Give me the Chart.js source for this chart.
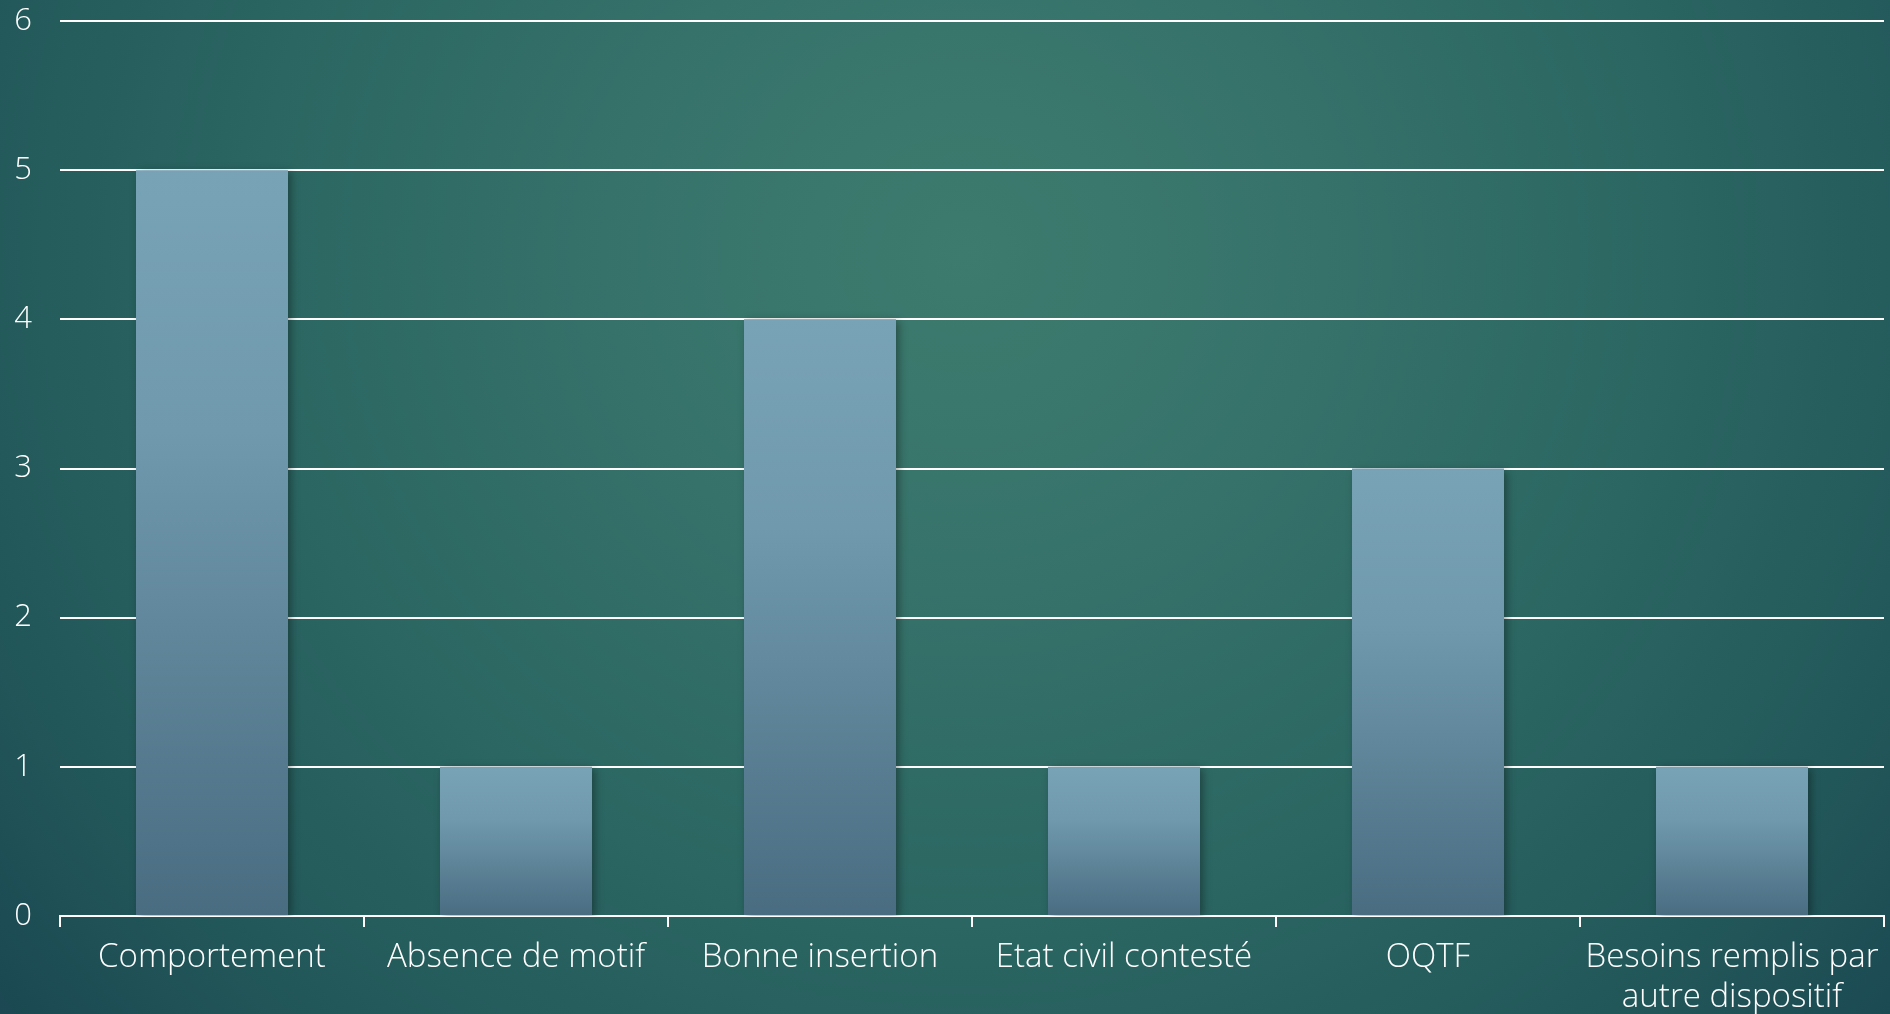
<!DOCTYPE html>
<html>
<head>
<meta charset="utf-8">
<script src="https://cdn.jsdelivr.net/npm/chart.js@4"></script>
<style>
    html, body { margin: 0; padding: 0; }
    body {
        width: 1890px;
        height: 1014px;
        overflow: hidden;
        background: radial-gradient(ellipse 68% 120% at 51% 25%, #3d7b6e 0%, #36726a 28%, #2b6662 55%, #225759 80%, #1a4651 100%);
    }
    #wrap { position: absolute; left: 0; top: 0; width: 1890px; height: 1014px; }
</style>
</head>
<body>
<div id="wrap"><canvas id="chartMotifs"></canvas></div>
<script>
// Motifs de refus
const categories = [
    'Comportement',
    'Absence de motif',
    'Bonne insertion',
    'Etat civil contesté',
    'OQTF',
    ['Besoins remplis par', 'autre dispositif'],
];
const counts = [5, 1, 4, 1, 3, 1];
const yTicks = [0, 1, 2, 3, 4, 5, 6];

const FONT_X = { family: '"Open Sans", "DejaVu Sans", sans-serif', size: 33, weight: 300 };
const FONT_Y = { family: '"Open Sans", "DejaVu Sans", sans-serif', size: 31, weight: 300 };

/**
 * Vertical gradient for each bar, from its top down to the base.
 */
function barGradient(context) {
    const chart = context.chart;
    const { ctx, chartArea, scales } = chart;
    if (!chartArea || context.type !== 'data') return '#6a92a8';
    const value = counts[context.dataIndex];
    const top = scales.y.getPixelForValue(value);
    const base = scales.y.getPixelForValue(0);
    const g = ctx.createLinearGradient(0, top, 0, base);
    g.addColorStop(0, '#78a2b6');
    g.addColorStop(0.35, '#7099ad');
    g.addColorStop(1, '#496c81');
    return g;
}

// soft drop shadow under the bars
const barShadow = {
    id: 'barShadow',
    beforeDatasetsDraw(chart) {
        const ctx = chart.ctx;
        ctx.save();
        ctx.shadowColor = 'rgba(0, 0, 0, 0.35)';
        ctx.shadowBlur = 8;
        ctx.shadowOffsetX = 3;
        ctx.shadowOffsetY = 2;
    },
    afterDatasetsDraw(chart) {
        chart.ctx.restore();
    },
};

const canvas = document.getElementById('chartMotifs');
const ctx = canvas.getContext('2d');

new Chart(ctx, {
    type: 'bar',
    data: {
        labels: categories,
        datasets: [{
            label: 'Nombre',
            data: counts,
            backgroundColor: barGradient,
            borderWidth: 0,
            categoryPercentage: 1,
            barPercentage: 0.5,
        }],
    },
    options: {
        responsive: true,
        maintainAspectRatio: false,
        animation: false,
        layout: { padding: { top: 21, right: 6, bottom: 0, left: 0 } },
        plugins: {
            legend: { display: false },
            tooltip: { enabled: false },
        },
        scales: {
            x: {
                grid: {
                    display: true,
                    drawOnChartArea: false,
                    drawTicks: true,
                    tickLength: 11,
                    color: '#ffffff',
                    lineWidth: 2,
                    offset: true,
                },
                border: { display: true, color: '#ffffff', width: 2 },
                ticks: {
                    color: '#ffffff',
                    font: FONT_X,
                    maxRotation: 0,
                    autoSkip: false,
                    padding: 11,
                },
                afterFit(scale) {
                    scale.height = 98;
                    scale.paddingLeft = 0;
                    scale.paddingRight = 0;
                },
            },
            y: {
                min: yTicks[0],
                max: yTicks[yTicks.length - 1],
                afterBuildTicks(scale) {
                    scale.ticks = yTicks.map(v => ({ value: v }));
                },
                grid: {
                    color: '#ffffff',
                    lineWidth: 2,
                    drawTicks: false,
                },
                border: { display: false },
                ticks: {
                    color: '#ffffff',
                    font: FONT_Y,
                    padding: 28,
                },
                afterFit(scale) {
                    scale.width = 60;
                    scale.paddingTop = 0;
                    scale.paddingBottom = 0;
                },
            },
        },
    },
    plugins: [barShadow],
});
</script>
</body>
</html>
